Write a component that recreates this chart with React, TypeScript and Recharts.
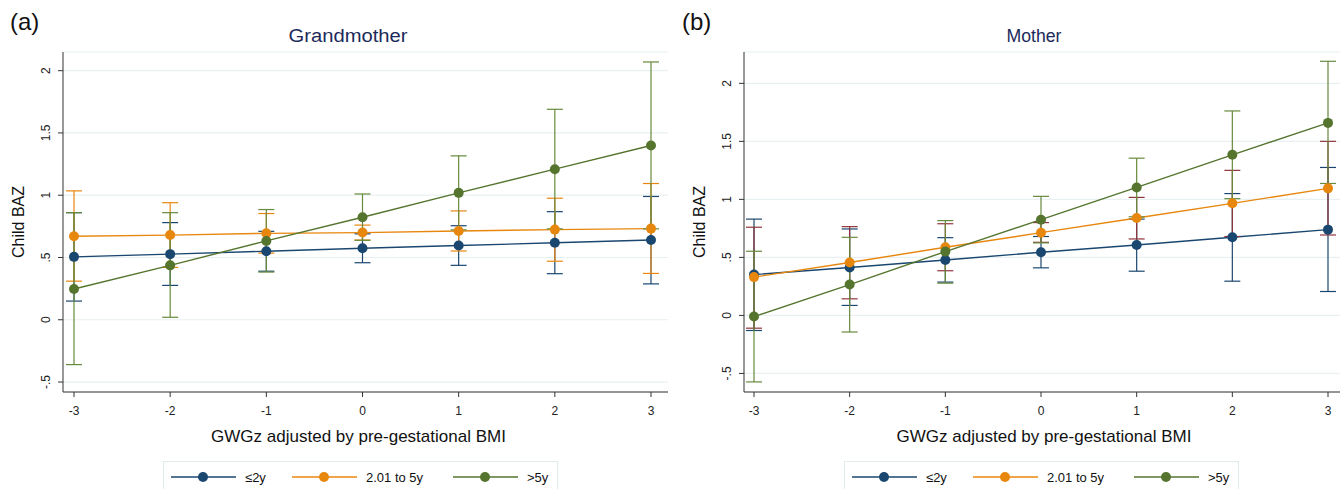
import { LineChart, Line, XAxis, YAxis, CartesianGrid, ErrorBar } from "recharts";

const FONT = '"Liberation Sans", Arial, sans-serif';

const xValues = [-3, -2, -1, 0, 1, 2, 3];
const yTicks = [-0.5, 0, 0.5, 1, 1.5, 2];
const seriesNames = ["≤2y", "2.01 to 5y", ">5y"];

// (a) Grandmother
const gmLe2 = [0.505, 0.527, 0.55, 0.574, 0.596, 0.618, 0.641];
const gmLe2Lo = [0.15, 0.276, 0.39, 0.458, 0.437, 0.37, 0.288];
const gmLe2Hi = [0.86, 0.78, 0.71, 0.69, 0.755, 0.868, 0.99];
const gm2to5 = [0.67, 0.68, 0.694, 0.7, 0.713, 0.724, 0.732];
const gm2to5Lo = [0.31, 0.42, 0.535, 0.64, 0.552, 0.47, 0.372];
const gm2to5Hi = [1.035, 0.94, 0.853, 0.76, 0.874, 0.976, 1.094];
const gmGt5 = [0.247, 0.437, 0.633, 0.823, 1.019, 1.209, 1.399];
const gmGt5Lo = [-0.36, 0.02, 0.383, 0.638, 0.722, 0.73, 0.73];
const gmGt5Hi = [0.86, 0.86, 0.885, 1.01, 1.316, 1.69, 2.07];

// (b) Mother
const mLe2 = [0.352, 0.413, 0.478, 0.544, 0.607, 0.673, 0.739];
const mLe2Lo = [-0.13, 0.086, 0.287, 0.41, 0.381, 0.295, 0.206];
const mLe2Hi = [0.83, 0.745, 0.67, 0.68, 0.83, 1.05, 1.275];
const m2to5 = [0.33, 0.456, 0.587, 0.713, 0.84, 0.966, 1.095];
const m2to5Lo = [-0.11, 0.143, 0.385, 0.63, 0.659, 0.68, 0.693];
const m2to5Hi = [0.76, 0.765, 0.79, 0.8, 1.017, 1.25, 1.5];
const mGt5 = [-0.01, 0.266, 0.55, 0.825, 1.103, 1.384, 1.659];
const mGt5Lo = [-0.573, -0.143, 0.278, 0.625, 0.85, 1.006, 1.137];
const mGt5Hi = [0.553, 0.673, 0.817, 1.026, 1.355, 1.762, 2.19];

const NAVY = "#1a476f";
const ORANGE = "#e8870e";
const GREEN = "#55752f";
const MAROON = "#90353b";

const buildRows = (s: number[][]) =>
  xValues.map((x, i) => ({
    x,
    a: s[0][i],
    aErr: [s[0][i] - s[1][i], s[2][i] - s[0][i]],
    b: s[3][i],
    bErr: [s[3][i] - s[4][i], s[5][i] - s[3][i]],
    c: s[6][i],
    cErr: [s[6][i] - s[7][i], s[8][i] - s[6][i]],
  }));

const gmRows = buildRows([gmLe2, gmLe2Lo, gmLe2Hi, gm2to5, gm2to5Lo, gm2to5Hi, gmGt5, gmGt5Lo, gmGt5Hi]);
const mRows = buildRows([mLe2, mLe2Lo, mLe2Hi, m2to5, m2to5Lo, m2to5Hi, mGt5, mGt5Lo, mGt5Hi]);

const fmtY = (v: number) => (v === 0 ? "0" : String(v).replace(/^(-?)0\./, "$1."));

const YTick = (props: any) => {
  const { x, y, payload } = props;
  const tx = x - 6;
  return (
    <text x={tx} y={y} transform={`rotate(-90 ${tx} ${y})`} textAnchor="middle" fontSize={12} fill="#222" fontFamily={FONT}>
      {fmtY(payload.value)}
    </text>
  );
};

interface PanelProps {
  left: number;
  letter: string;
  title: string;
  titleX: number;
  titleLen: number;
  xTitleShift: number;
  rows: any[];
  yDomain: [number, number];
  yWidth: number;
  pad: { left: number; right: number };
  midErr: string;
  legendLeft: number;
}

const Panel = ({ left, letter, title, titleX, titleLen, xTitleShift, rows, yDomain, yWidth, pad, midErr, legendLeft }: PanelProps) => {
  const dot = (c: string) => ({ r: 5, fill: c, stroke: c, strokeWidth: 0 });
  const legendItems = [
    { name: seriesNames[0], color: NAVY, at: 7 },
    { name: seriesNames[1], color: ORANGE, at: 128 },
    { name: seriesNames[2], color: GREEN, at: 289 },
  ];
  return (
    <div style={{ position: "absolute", left, top: 0, width: 672, height: 489 }}>
      <div style={{ position: "absolute", left: 10, top: 8, fontSize: 24, fontFamily: FONT, color: "#111" }}>{letter}</div>
      <LineChart
        width={672}
        height={489}
        data={rows}
        margin={{ top: 52, right: 4, left: 0, bottom: 46 }}
        style={{ fontFamily: FONT }}
      >
        <text
          x={titleX}
          y={42}
          textAnchor="middle"
          fontSize={18}
          fill="#1c2a5a"
          fontFamily={FONT}
          textLength={titleLen}
          lengthAdjust="spacingAndGlyphs"
        >
          {title}
        </text>
        <CartesianGrid vertical={false} stroke="#e8f0f1" strokeWidth={1.2} />
        <XAxis
          dataKey="x"
          type="number"
          domain={[-3, 3]}
          ticks={xValues}
          padding={pad}
          height={51}
          tickSize={5}
          tickMargin={9}
          stroke="#333"
          tick={{ fontSize: 12, fill: "#222" }}
          label={({ viewBox }: any) => (
            <text
              x={viewBox.x + viewBox.width / 2 + xTitleShift}
              y={viewBox.y + 50}
              textAnchor="middle"
              fontSize={17}
              fill="#111"
              fontFamily={FONT}
            >
              GWGz adjusted by pre-gestational BMI
            </text>
          )}
        />
        <YAxis
          type="number"
          domain={yDomain}
          ticks={yTicks}
          allowDataOverflow
          width={yWidth}
          tickSize={5}
          stroke="#333"
          tick={<YTick />}
          label={({ viewBox }: any) => {
            const bx = viewBox.x + viewBox.width - 39;
            const cy = viewBox.y + viewBox.height / 2;
            return (
              <text x={bx} y={cy} transform={`rotate(-90 ${bx} ${cy})`} textAnchor="middle" fontSize={16} fill="#111" fontFamily={FONT}>
                Child BAZ
              </text>
            );
          }}
        />
        <Line dataKey="a" stroke={NAVY} strokeWidth={1.4} dot={dot(NAVY)} activeDot={false} isAnimationActive={false}>
          <ErrorBar dataKey="aErr" direction="y" width={8} stroke={NAVY} strokeWidth={1.2} isAnimationActive={false} />
        </Line>
        <Line dataKey="b" stroke={ORANGE} strokeWidth={1.4} dot={dot(ORANGE)} activeDot={false} isAnimationActive={false}>
          <ErrorBar dataKey="bErr" direction="y" width={8} stroke={midErr} strokeWidth={1.2} isAnimationActive={false} />
        </Line>
        <Line dataKey="c" stroke={GREEN} strokeWidth={1.4} dot={dot(GREEN)} activeDot={false} isAnimationActive={false}>
          <ErrorBar dataKey="cErr" direction="y" width={8} stroke="#678a3c" strokeWidth={1.2} isAnimationActive={false} />
        </Line>
      </LineChart>
      <div
        style={{
          position: "absolute",
          left: legendLeft,
          top: 461,
          width: 395,
          height: 40,
          border: "1px solid #e2ebec",
          boxSizing: "border-box",
          fontFamily: FONT,
          fontSize: 13,
          color: "#111",
        }}
      >
        {legendItems.map((it) => (
          <div key={it.name} style={{ position: "absolute", left: it.at, top: 6, height: 18, display: "flex", alignItems: "center" }}>
            <svg width={65} height={14}>
              <line x1={0} y1={7} x2={65} y2={7} stroke={it.color} strokeWidth={1.4} />
              <circle cx={32} cy={7} r={5} fill={it.color} />
            </svg>
            <span style={{ marginLeft: 9, whiteSpace: "nowrap" }}>{it.name}</span>
          </div>
        ))}
      </div>
    </div>
  );
};

export default function App() {
  return (
    <div style={{ position: "fixed", left: 0, top: 0, width: 1344, height: 489, background: "#fff", overflow: "hidden" }}>
      <Panel
        left={0}
        letter="(a)"
        title="Grandmother"
        titleX={348}
        titleLen={119}
        xTitleShift={-7}
        rows={gmRows}
        yDomain={[-0.58, 2.15]}
        yWidth={63}
        pad={{ left: 11, right: 17 }}
        midErr={ORANGE}
        legendLeft={163}
      />
      <Panel
        left={672}
        letter="(b)"
        title="Mother"
        titleX={362}
        titleLen={55}
        xTitleShift={2}
        rows={mRows}
        yDomain={[-0.66, 2.27]}
        yWidth={72}
        pad={{ left: 10, right: 12 }}
        midErr={MAROON}
        legendLeft={172}
      />
    </div>
  );
}
